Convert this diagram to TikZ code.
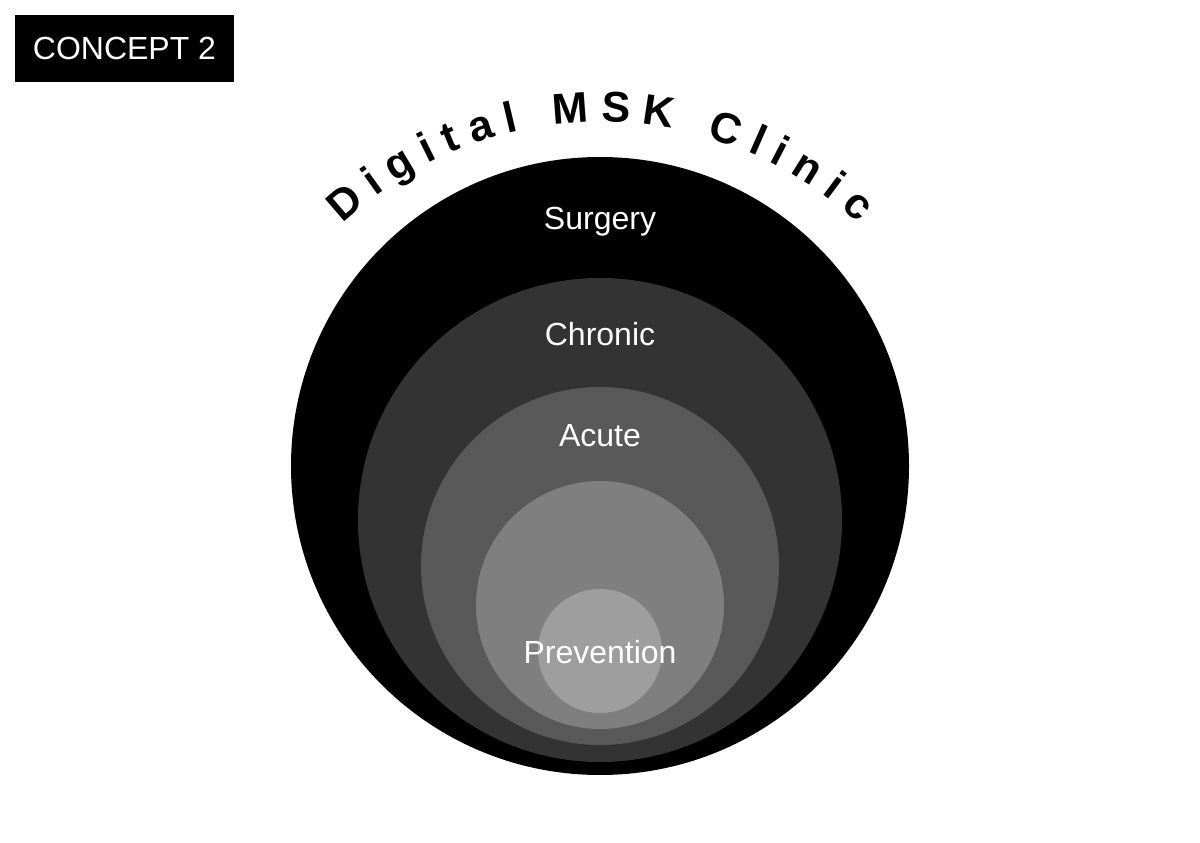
\documentclass[tikz,border=0pt]{standalone}
\usepackage{fontspec}
\setmainfont{Liberation Sans}
\usetikzlibrary{decorations.text}
\definecolor{RingSurgery}{HTML}{000000}
\definecolor{RingChronic}{HTML}{333333}
\definecolor{RingAcute}{HTML}{595959}
\definecolor{RingInner}{HTML}{7F7F7F}
\definecolor{RingPrevention}{HTML}{9E9E9E}
\newcommand{\ringfont}{\fontsize{16}{19}\selectfont}
\newcommand{\arcfont}{\fontsize{21.5}{26}\selectfont\bfseries}

\begin{document}
\begin{tikzpicture}[x=0.5pt, y=0.5pt,
    layerlabel/.style={anchor=base, text=white, font=\ringfont, inner sep=0pt},
    conceptbox/.style={fill=black, text=white, font=\ringfont, minimum width=109.5pt, minimum height=33.5pt, inner sep=0pt}]
  \fill[white] (0,0) rectangle (1200,842);
  \useasboundingbox (0,0) rectangle (1200,842);

  % 1. Nested layers (outer to inner)
  \fill[RingSurgery] (600,376) circle (309);
  \fill[RingChronic] (600,322) circle (242);
  \fill[RingAcute] (600,276) circle (179);
  \fill[RingInner] (600,237) circle (124);
  \fill[RingPrevention] (600,191) circle (62);

  % 2. Layer labels
  \node[layerlabel] (surgery) at (600,612) {Surgery};
  \node[layerlabel] (chronic) at (600,496) {Chronic};
  \node[layerlabel] (acute) at (600,395) {Acute};
  \node[layerlabel] (prevention) at (600,179) {Prevention};

  % 3. Title bent over the top
  \path[decorate, decoration={text along path, text align={fit to path},
      text={|\arcfont|Digital MSK Clinic}}]
    (600,342) ++(133:378) arc (133:47:378);

  % 4. Tag in the corner
  \node[conceptbox] (tag) at (124.5,793.5) {CONCEPT 2};
\end{tikzpicture}
\end{document}
